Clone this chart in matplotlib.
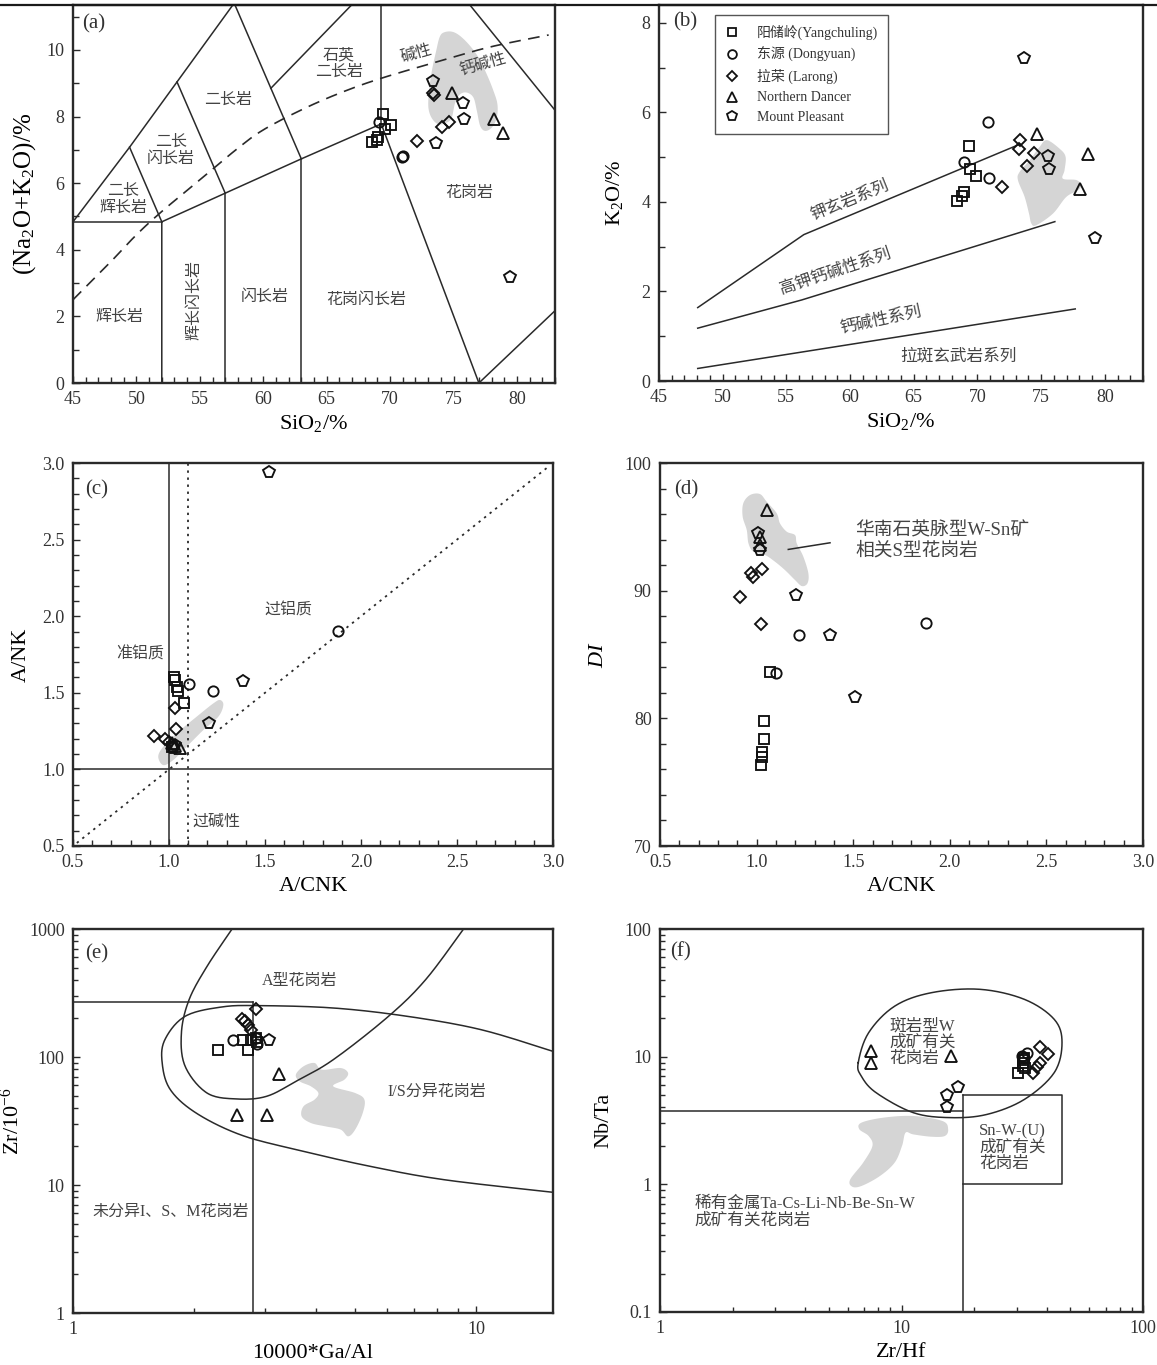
import numpy as np
import matplotlib
matplotlib.use('Agg')
import matplotlib.pyplot as plt
from matplotlib.lines import Line2D
from matplotlib.ticker import (MultipleLocator, FixedLocator, FixedFormatter,
                               LogLocator, NullFormatter, FormatStrFormatter)

plt.rcParams['font.family'] = ['Liberation Serif', 'Noto Sans CJK SC']
plt.rcParams['mathtext.fontset'] = 'custom'
plt.rcParams['mathtext.rm'] = 'Liberation Serif'
plt.rcParams['mathtext.it'] = 'Liberation Serif:italic'

# ---------------------------------------------------------------- samples
# order of every group: Yangchuling, Dongyuan, Larong, Northern Dancer, Mount Pleasant
a_sq_x = [69.47, 70.08, 69.60, 69.08, 68.95, 68.56]
a_sq_y = [8.07, 7.75, 7.64, 7.40, 7.30, 7.25]
a_ci_x = [69.16, 70.97, 71.02]
a_ci_y = [7.85, 6.80, 6.82]
a_di_x = [73.40, 73.45, 72.15, 74.08, 74.68]
a_di_y = [8.70, 8.66, 7.28, 7.69, 7.85]
a_tr_x = [74.86, 78.23, 78.89]
a_tr_y = [8.70, 7.92, 7.52]
a_pe_x = [73.42, 75.73, 75.84, 73.63, 79.44]
a_pe_y = [9.07, 8.42, 7.92, 7.22, 3.17]

b_sq_x = [69.32, 69.45, 69.87, 68.95, 68.82, 68.40]
b_sq_y = [5.25, 4.74, 4.58, 4.23, 4.13, 4.03]
b_ci_x = [70.83, 68.95, 70.91]
b_ci_y = [5.79, 4.90, 4.54]
b_di_x = [73.31, 73.24, 74.44, 73.92, 71.90]
b_di_y = [5.39, 5.19, 5.10, 4.80, 4.34]
b_tr_x = [74.67, 78.67, 78.07]
b_tr_y = [5.51, 5.08, 4.30]
b_pe_x = [73.62, 75.53, 75.61, 79.22]
b_pe_y = [7.22, 5.03, 4.74, 3.20]

c_sq_x = [1.026, 1.031, 1.040, 1.045, 1.078, 1.014]
c_sq_y = [1.601, 1.584, 1.540, 1.514, 1.431, 1.144]
c_ci_x = [1.104, 1.228, 1.879]
c_ci_y = [1.555, 1.514, 1.906]
c_di_x = [1.031, 1.038, 0.922, 0.979, 1.000]
c_di_y = [1.399, 1.262, 1.218, 1.196, 1.180]
c_tr_x = [1.017, 1.030, 1.057]
c_tr_y = [1.170, 1.150, 1.138]
c_pe_x = [1.387, 1.210, 1.523, 1.020, 1.030]
c_pe_y = [1.579, 1.305, 2.941, 1.140, 1.160]

d_sq_x = [1.069, 1.040, 1.040, 1.030, 1.028, 1.021]
d_sq_y = [83.65, 79.81, 78.35, 77.38, 76.99, 76.34]
d_ci_x = [1.219, 1.100, 1.877]
d_ci_y = [86.50, 83.57, 87.47]
d_di_x = [1.026, 0.969, 0.983, 0.914, 1.023]
d_di_y = [91.67, 91.40, 91.10, 89.47, 87.36]
d_tr_x = [1.052, 1.018, 1.020]
d_tr_y = [96.31, 94.20, 93.55]
d_pe_x = [1.009, 1.018, 1.204, 1.380, 1.509]
d_pe_y = [94.53, 93.18, 89.66, 86.52, 81.69]

e_sq_x = [2.29, 2.64, 2.71, 2.77, 2.85, 2.86]
e_sq_y = [114, 136, 114, 136, 142, 132]
e_ci_x = [2.50, 2.86, 2.84]
e_ci_y = [136, 127, 140]
e_di_x = [2.85, 2.63, 2.67, 2.72, 2.77]
e_di_y = [236, 197, 190, 178, 163]
e_tr_x = [3.24, 2.55, 3.02]
e_tr_y = [73.5, 35.4, 35.4]
e_pe_x = [3.07]
e_pe_y = [136]

f_sq_x = [30.5, 31.7, 31.8, 32.0, 32.2, 32.4]
f_sq_y = [7.5, 8.5, 8.9, 9.4, 9.8, 8.2]
f_ci_x = [31.6, 33.0, 32.2]
f_ci_y = [10.1, 10.6, 9.7]
f_di_x = [37.5, 40.5, 37.5, 36.3, 34.9]
f_di_y = [11.96, 10.5, 8.96, 8.34, 7.48]
f_tr_x = [7.5, 7.5, 16.1]
f_tr_y = [11.1, 8.97, 10.2]
f_pe_x = [15.5, 17.1, 15.5]
f_pe_y = [5.01, 5.82, 4.06]

labels = ['阳储岭(Yangchuling)', '东源 (Dongyuan)', '拉荣 (Larong)',
          'Northern Dancer', 'Mount Pleasant']

# ------------------------------------------------ reference fields (grey)
a_field_x = [74.20, 74.86, 75.52, 76.31, 76.97, 77.62, 78.15, 78.46, 78.41, 78.02,
             77.49, 77.10, 76.84, 76.57, 76.05, 75.52, 75.13, 74.86, 74.47, 73.81,
             73.29, 73.02, 73.07, 73.29, 73.63, 73.89]
a_field_y = [10.52, 10.55, 10.42, 10.12, 9.77, 9.27, 8.77, 8.37, 7.97, 7.67,
             7.57, 7.72, 8.17, 8.57, 8.72, 8.67, 8.42, 7.97, 7.82, 7.77,
             7.95, 8.27, 8.77, 9.37, 9.97, 10.37]
b_field_x = [75.45, 76.45, 76.92, 76.84, 76.71, 77.76, 78.15, 77.89, 76.97,
             75.93, 74.62, 74.23, 74.05, 73.71, 73.18, 73.31, 74.10, 74.88]
b_field_y = [5.38, 5.19, 5.01, 4.71, 4.52, 4.49, 4.38, 4.26, 4.11,
             3.74, 3.48, 3.52, 3.74, 4.11, 4.49, 4.67, 4.93, 5.23]
c_field_x = [0.944, 0.970, 1.040, 1.144, 1.231, 1.266, 1.283, 1.257, 1.179, 1.092, 1.022, 0.970]
c_field_y = [1.083, 1.148, 1.236, 1.344, 1.431, 1.453, 1.420, 1.344, 1.257, 1.148, 1.061, 1.028]
d_field_x = [0.931, 0.966, 1.017, 1.052, 1.104, 1.121, 1.156, 1.199, 1.208, 1.242, 1.268,
             1.263, 1.234, 1.199, 1.147, 1.095, 1.044, 0.984, 0.958, 0.949, 0.928]
d_field_y = [96.84, 97.49, 97.57, 96.97, 96.06, 95.27, 94.62, 94.35, 93.70, 92.66, 91.35,
             90.57, 90.36, 90.83, 91.61, 92.27, 92.79, 93.05, 93.70, 94.75, 95.79]
e_field_x = [3.73, 3.97, 4.14, 4.61, 4.81, 4.71, 4.42, 5.01, 5.28, 5.23, 5.01,
             4.81, 4.61, 4.23, 3.89, 3.69, 3.73, 3.97, 4.06, 3.89, 3.65, 3.57]
e_field_y = [84.6, 89.8, 79.6, 82.0, 75.0, 66.5, 59.0, 52.3, 46.4, 36.5, 27.1,
             24.0, 27.1, 28.7, 30.5, 34.4, 41.2, 46.4, 52.3, 59.0, 64.5, 72.8]
f_field_x = [6.82, 8.43, 11.2, 14.8, 15.6, 15.1, 13.3, 11.2, 10.4, 10.05,
             9.37, 8.13, 6.82, 6.24, 6.13, 6.94, 7.58, 7.31, 6.69]
f_field_y = [3.04, 3.33, 3.43, 3.13, 2.70, 2.39, 2.36, 2.46, 2.54, 2.00,
             1.48, 1.16, 0.97, 0.96, 1.09, 1.48, 2.00, 2.39, 2.70]

# ------------------------------------------------------ diagram boundaries
tas_lines = [
    [(45, 52), (4.84, 4.84)],
    [(52, 52, 57, 63, 69.3, 77.0), (0, 4.84, 5.70, 6.73, 7.78, 0)],
    [(57, 57), (0, 5.70)],
    [(63, 63), (0, 6.73)],
    [(69.3, 69.3), (7.78, 11.35)],
    [(45, 49.46, 53.2, 57.6), (4.84, 7.08, 9.04, 11.35)],
    [(49.46, 52), (7.08, 4.84)],
    [(53.2, 57), (9.04, 5.70)],
    [(57.77, 63), (11.35, 6.73)],
    [(60.6, 66.96), (8.85, 11.35)],
    [(76.29, 83), (11.35, 8.19)],
    [(77.0, 83), (0, 2.17)],
]
ib_x = [45, 48, 50, 52, 55, 58, 60, 63, 66, 69.3, 74.4, 78, 82.5]
ib_y = [2.5, 3.65, 4.45, 5.15, 6.1, 7.05, 7.6, 8.2, 8.7, 9.15, 9.72, 10.1, 10.45]

k2o_lines = [
    [(48.04, 56.37, 73.33), (1.64, 3.27, 5.29)],
    [(48.04, 56.2, 76.08), (1.18, 1.81, 3.56)],
    [(48.04, 77.68), (0.28, 1.61)],
]

e_a_curve_x = [2.48, 2.15, 1.94, 1.857, 1.897, 2.15, 2.55, 3.02, 3.57, 4.42, 6.06, 7.49, 9.3]
e_a_curve_y = [1000, 511, 280, 154, 84.6, 52.3, 47, 49.3, 64.5, 95.3, 208, 402, 1000]
e_is_curve_x = [15.5, 10.27, 6.74, 4.42, 2.89, 2.34, 1.897, 1.69, 1.664, 1.743,
                2.02, 2.60, 3.57, 5.45, 8.32, 15.5]
e_is_curve_y = [110.7, 163.6, 208, 241.5, 252, 246, 208, 136.6, 89.8, 55.6,
                36.5, 24.7, 18.9, 14.0, 11.0, 8.77]

f_ell_x = [6.62, 7.31, 9.38, 13.3, 21.1, 32.3, 42.9, 46.2, 42.9, 32.3, 22.6, 15.9, 11.2, 7.85, 6.81]
f_ell_y = [8.97, 15.4, 24.9, 31.7, 33.7, 28.1, 19.6, 12.9, 7.50, 4.63, 3.53, 3.33, 3.64, 5.22, 7.06]

MARKERS = [('s', 6.8), ('o', 7.4), ('D', 6.2), ('^', 8.0), ('p', 8.4)]
LINE_C = '#2a2a2a'
FIELD_C = '#d5d5d5'
TEXT_C = '#444444'


def smooth(xs, ys, closed=False, logx=False, logy=False, n=16):
    """Catmull-Rom spline through outline vertices (in log space on log axes)."""
    x = np.log10(xs) if logx else np.asarray(xs, float)
    y = np.log10(ys) if logy else np.asarray(ys, float)
    P = np.column_stack([x, y])
    if closed:
        P = np.vstack([P[-1], P, P[0], P[1]])
    else:
        P = np.vstack([P[0], P, P[-1]])
    t = np.linspace(0, 1, n, endpoint=False)[:, None]
    segs = []
    for i in range(1, len(P) - 2):
        p0, p1, p2, p3 = P[i - 1], P[i], P[i + 1], P[i + 2]
        segs.append(0.5 * (2 * p1 + (-p0 + p2) * t + (2 * p0 - 5 * p1 + 4 * p2 - p3) * t ** 2
                           + (-p0 + 3 * p1 - 3 * p2 + p3) * t ** 3))
    segs.append(P[-2][None, :])
    out = np.vstack(segs)
    sx, sy = out[:, 0], out[:, 1]
    if logx:
        sx = 10 ** sx
    if logy:
        sy = 10 ** sy
    return sx, sy


def samples(ax, groups):
    for (xs, ys), (m, ms) in zip(groups, MARKERS):
        ax.plot(xs, ys, ls='none', marker=m, ms=ms, mfc='none', mec='#111111',
                mew=1.35, zorder=5)


def style(ax):
    for s in ax.spines.values():
        s.set_linewidth(1.7)
        s.set_color('#2a2a2a')
    ax.tick_params(which='both', direction='in', top=False, right=False,
                   labelsize=13, colors='#2a2a2a', labelcolor='#333333', width=1.0)
    ax.tick_params(which='major', length=5, pad=6)
    ax.tick_params(which='minor', length=4)


def panel_tag(ax, tag, x=0.018, y=0.975):
    ax.text(x, y, tag, transform=ax.transAxes, fontsize=15, ha='left', va='top',
            color='#333333')


def log_ticks(axis, majors, names):
    axis.set_major_locator(FixedLocator(majors))
    axis.set_major_formatter(FixedFormatter(names))
    axis.set_minor_locator(LogLocator(base=10, subs=np.arange(2, 10)))
    axis.set_minor_formatter(NullFormatter())


fig = plt.figure(figsize=(11.57, 13.65), dpi=100)
W, H = 1157, 1365


def box(l, t, r, b):
    return fig.add_axes([l / W, 1 - b / H, (r - l) / W, (b - t) / H])


axa = box(73, 5, 555, 383)
axb = box(659, 5, 1143, 381)
axc = box(73, 463, 553, 846)
axd = box(660, 463, 1143, 846)
axe = box(73, 929, 553, 1313)
axf = box(660, 929, 1143, 1312)

# ------------------------------------------------------------- (a) TAS
ax = axa
style(ax)
sx, sy = smooth(a_field_x, a_field_y, closed=True)
ax.fill(sx, sy, color=FIELD_C, lw=0, zorder=1)
for xs, ys in tas_lines:
    ax.plot(xs, ys, color=LINE_C, lw=1.1, zorder=2)
sx, sy = smooth(ib_x, ib_y)
ax.plot(sx, sy, color=LINE_C, lw=1.2, ls=(0, (7, 4.5)), zorder=2)
samples(ax, [(a_sq_x, a_sq_y), (a_ci_x, a_ci_y), (a_di_x, a_di_y),
             (a_tr_x, a_tr_y), (a_pe_x, a_pe_y)])
for txt, x, y, rot in [('石英\n二长岩', 65.94, 9.6, 0), ('碱性', 72.06, 9.9, 16),
                       ('钙碱性', 77.3, 9.55, 16), ('二长岩', 57.2, 8.51, 0),
                       ('二长\n闪长岩', 52.73, 6.98, 0), ('二长\n辉长岩', 48.94, 5.52, 0),
                       ('花岗岩', 76.23, 5.70, 0), ('辉长岩', 48.65, 1.99, 0),
                       ('辉长闪长岩', 54.57, 2.5, 90), ('闪长岩', 60.1, 2.6, 0),
                       ('花岗闪长岩', 68.13, 2.5, 0)]:
    ax.text(x, y, txt, fontsize=11.5, color=TEXT_C, ha='center', va='center',
            rotation=rot, linespacing=1.05, zorder=3)
ax.set_xlim(45, 83)
ax.set_ylim(0, 11.35)
ax.xaxis.set_major_locator(MultipleLocator(5))
ax.xaxis.set_minor_locator(MultipleLocator(1))
ax.yaxis.set_major_locator(MultipleLocator(2))
ax.yaxis.set_minor_locator(MultipleLocator(1))
ax.set_xlabel('SiO$_2$/%', fontsize=16, labelpad=3)
ax.set_ylabel('(Na$_2$O+K$_2$O)/%', fontsize=18, labelpad=6)
panel_tag(ax, '(a)')

# ---------------------------------------------------------- (b) K2O-SiO2
ax = axb
style(ax)
sx, sy = smooth(b_field_x, b_field_y, closed=True)
ax.fill(sx, sy, color=FIELD_C, lw=0, zorder=1)
for xs, ys in k2o_lines:
    ax.plot(xs, ys, color=LINE_C, lw=1.1, zorder=2)
samples(ax, [(b_sq_x, b_sq_y), (b_ci_x, b_ci_y), (b_di_x, b_di_y),
             (b_tr_x, b_tr_y), (b_pe_x, b_pe_y)])
for txt, x, y, rot in [('钾玄岩系列', 60.0, 4.04, 22), ('高钾钙碱性系列', 58.83, 2.44, 18.5),
                       ('钙碱性系列', 62.45, 1.35, 12), ('拉斑玄武岩系列', 68.54, 0.54, 0)]:
    ax.text(x, y, txt, fontsize=12, color=TEXT_C, ha='center', va='center',
            rotation=rot, rotation_mode='anchor', zorder=3)
ax.set_xlim(45, 83)
ax.set_ylim(0, 8.4)
ax.xaxis.set_major_locator(MultipleLocator(5))
ax.xaxis.set_minor_locator(MultipleLocator(1))
ax.yaxis.set_major_locator(MultipleLocator(2))
ax.yaxis.set_minor_locator(MultipleLocator(1))
ax.set_xlabel('SiO$_2$/%', fontsize=16, labelpad=3)
ax.set_ylabel('K$_2$O/%', fontsize=16, labelpad=12)
panel_tag(ax, '(b)', x=0.03, y=0.98)
handles = [Line2D([], [], ls='none', marker=m, ms=ms * 0.85, mfc='none', mec='#111111', mew=1.3)
           for m, ms in MARKERS]
leg = ax.legend(handles, labels, loc='upper left', bbox_to_anchor=(0.116, 0.973),
                borderaxespad=0, fontsize=10, frameon=True, fancybox=False,
                edgecolor='#2a2a2a', borderpad=0.7, labelspacing=0.5,
                handlelength=1.0, handletextpad=1.3)
leg.get_frame().set_linewidth(1.0)
for t in leg.get_texts():
    t.set_color('#333333')

# ------------------------------------------------------- (c) A/NK-A/CNK
ax = axc
style(ax)
sx, sy = smooth(c_field_x, c_field_y, closed=True)
ax.fill(sx, sy, color=FIELD_C, lw=0, zorder=1)
ax.plot([1.0, 1.0], [0.5, 3.0], color=LINE_C, lw=1.1, zorder=2)
ax.plot([0.5, 3.0], [1.0, 1.0], color=LINE_C, lw=1.1, zorder=2)
ax.plot([1.1, 1.1], [0.5, 3.0], color=LINE_C, lw=1.3, ls=(0, (1.3, 2.6)), zorder=2)
ax.plot([0.52, 2.98], [0.52, 2.98], color=LINE_C, lw=1.3, ls=(0, (1.3, 2.6)), zorder=2)
samples(ax, [(c_sq_x, c_sq_y), (c_ci_x, c_ci_y), (c_di_x, c_di_y),
             (c_tr_x, c_tr_y), (c_pe_x, c_pe_y)])
for txt, x, y in [('准铝质', 0.849, 1.747), ('过铝质', 1.623, 2.04), ('过碱性', 1.247, 0.657)]:
    ax.text(x, y, txt, fontsize=11.5, color=TEXT_C, ha='center', va='center')
ax.set_xlim(0.5, 3.0)
ax.set_ylim(0.5, 3.0)
for axis in (ax.xaxis, ax.yaxis):
    axis.set_major_locator(MultipleLocator(0.5))
    axis.set_minor_locator(MultipleLocator(0.1))
    axis.set_major_formatter(FormatStrFormatter('%.1f'))
ax.set_xlabel('A/CNK', fontsize=16, labelpad=4)
ax.set_ylabel('A/NK', fontsize=16, labelpad=8)
panel_tag(ax, '(c)', x=0.025, y=0.955)

# ---------------------------------------------------------- (d) DI-A/CNK
ax = axd
style(ax)
sx, sy = smooth(d_field_x, d_field_y, closed=True)
ax.fill(sx, sy, color=FIELD_C, lw=0, zorder=1)
ax.plot([1.164, 1.38], [93.23, 93.75], color=LINE_C, lw=1.1, zorder=3)
samples(ax, [(d_sq_x, d_sq_y), (d_ci_x, d_ci_y), (d_di_x, d_di_y),
             (d_tr_x, d_tr_y), (d_pe_x, d_pe_y)])
ax.text(1.51, 93.9, '华南石英脉型W-Sn矿\n相关S型花岗岩', fontsize=13.5, color=TEXT_C,
        ha='left', va='center', linespacing=1.15)
ax.set_xlim(0.5, 3.0)
ax.set_ylim(70, 100)
ax.xaxis.set_major_locator(MultipleLocator(0.5))
ax.xaxis.set_minor_locator(MultipleLocator(0.1))
ax.xaxis.set_major_formatter(FormatStrFormatter('%.1f'))
ax.yaxis.set_major_locator(MultipleLocator(10))
ax.yaxis.set_minor_locator(MultipleLocator(2))
ax.set_xlabel('A/CNK', fontsize=16, labelpad=4)
ax.set_ylabel('$DI$', fontsize=16, labelpad=12)
panel_tag(ax, '(d)', x=0.03, y=0.955)

# ----------------------------------------------------- (e) Zr-10000Ga/Al
ax = axe
style(ax)
ax.set_xscale('log')
ax.set_yscale('log')
sx, sy = smooth(e_field_x, e_field_y, closed=True, logx=True, logy=True)
ax.fill(sx, sy, color=FIELD_C, lw=0, zorder=1)
ax.plot([1, 2.79], [270, 270], color=LINE_C, lw=1.1, zorder=2)
ax.plot([2.79, 2.79], [1, 270], color=LINE_C, lw=1.1, zorder=2)
sx, sy = smooth(e_a_curve_x, e_a_curve_y, logx=True, logy=True)
ax.plot(sx, sy, color=LINE_C, lw=1.1, zorder=2)
sx, sy = smooth(e_is_curve_x, e_is_curve_y, logx=True, logy=True)
ax.plot(sx, sy, color=LINE_C, lw=1.1, zorder=2)
samples(ax, [(e_sq_x, e_sq_y), (e_ci_x, e_ci_y), (e_di_x, e_di_y),
             (e_tr_x, e_tr_y), (e_pe_x, e_pe_y)])
ax.text(3.65, 390, 'A型花岗岩', fontsize=11.5, color=TEXT_C, ha='center', va='center')
ax.text(7.98, 53, 'I/S分异花岗岩', fontsize=11.5, color=TEXT_C, ha='center', va='center')
ax.text(1.118, 6.2, '未分异I、S、M花岗岩', fontsize=11.5, color=TEXT_C, ha='left', va='center')
ax.set_xlim(1, 15.5)
ax.set_ylim(1, 1000)
log_ticks(ax.xaxis, [1, 10], ['1', '10'])
log_ticks(ax.yaxis, [1, 10, 100, 1000], ['1', '10', '100', '1000'])
ax.tick_params(which='minor', length=3.5)
ax.set_xlabel('10000*Ga/Al', fontsize=16, labelpad=4)
ax.set_ylabel('Zr/10$^{-6}$', fontsize=16, labelpad=4)
panel_tag(ax, '(e)', x=0.025, y=0.96)

# ------------------------------------------------------- (f) Nb/Ta-Zr/Hf
ax = axf
style(ax)
ax.set_xscale('log')
ax.set_yscale('log')
sx, sy = smooth(f_field_x, f_field_y, closed=True, logx=True, logy=True)
ax.fill(sx, sy, color=FIELD_C, lw=0, zorder=1)
sx, sy = smooth(f_ell_x, f_ell_y, closed=True, logx=True, logy=True)
ax.plot(sx, sy, color=LINE_C, lw=1.1, zorder=2)
ax.plot([1, 18], [3.75, 3.75], color=LINE_C, lw=1.1, zorder=2)
ax.plot([18, 18], [0.1, 5], color=LINE_C, lw=1.1, zorder=2)
ax.plot([18, 46, 46, 18], [5, 5, 1, 1], color=LINE_C, lw=1.1, zorder=2)
samples(ax, [(f_sq_x, f_sq_y), (f_ci_x, f_ci_y), (f_di_x, f_di_y),
             (f_tr_x, f_tr_y), (f_pe_x, f_pe_y)])
ax.text(8.89, 12.9, '斑岩型W\n成矿有关\n花岗岩', fontsize=12, color=TEXT_C,
        ha='left', va='center', linespacing=1.0)
ax.text(21, 1.94, 'Sn-W-(U)\n成矿有关\n花岗岩', fontsize=12, color=TEXT_C,
        ha='left', va='center', linespacing=1.0)
ax.text(1.39, 0.60, '稀有金属Ta-Cs-Li-Nb-Be-Sn-W\n成矿有关花岗岩', fontsize=12, color=TEXT_C,
        ha='left', va='center', linespacing=1.05)
ax.set_xlim(1, 100)
ax.set_ylim(0.1, 100)
log_ticks(ax.xaxis, [1, 10, 100], ['1', '10', '100'])
log_ticks(ax.yaxis, [0.1, 1, 10, 100], ['0.1', '1', '10', '100'])
ax.tick_params(which='minor', length=3.5)
ax.set_xlabel('Zr/Hf', fontsize=16, labelpad=4)
ax.set_ylabel('Nb/Ta', fontsize=16, labelpad=8)
panel_tag(ax, '(f)', x=0.02, y=0.965)

# rule along the top edge of the page
fig.add_artist(Line2D([0, 1], [1 - 5 / H, 1 - 5 / H], transform=fig.transFigure,
                      color='#1a1a1a', lw=1.6))

fig.savefig('out.png', dpi=100, facecolor='white')
